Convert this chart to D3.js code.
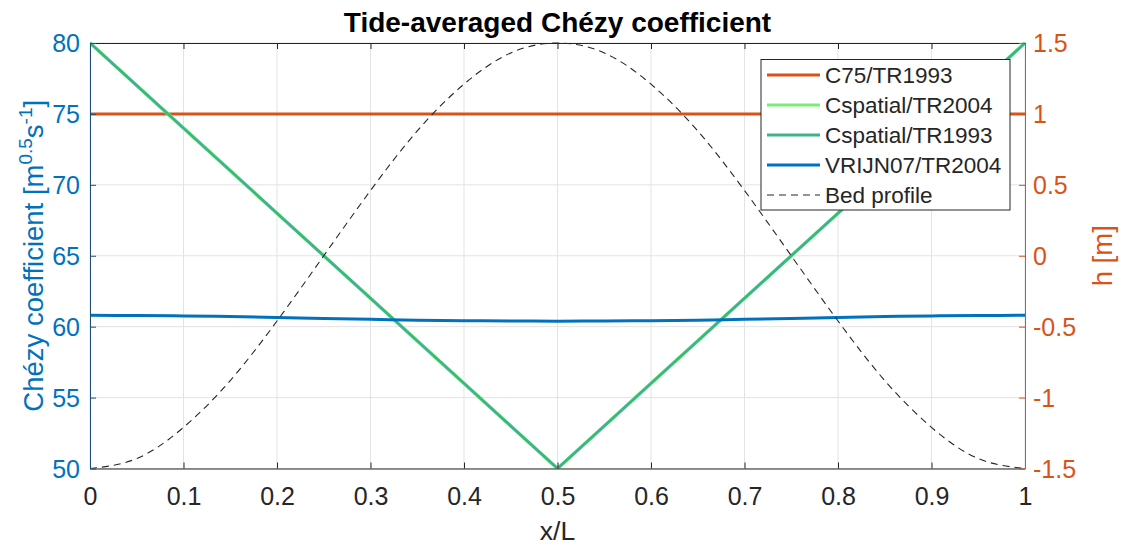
<!DOCTYPE html>
<html><head><meta charset="utf-8">
<script src="https://cdn.jsdelivr.net/npm/d3@7"></script>
<style>body{margin:0;background:#fff}svg{display:block;font-family:"Liberation Sans",Arial,sans-serif}</style>
</head><body><svg id="c" width="1122" height="546"></svg>
<script>
// ---- data ----
const xPos = [0, 0.05, 0.1, 0.15, 0.2, 0.25, 0.3, 0.35, 0.4, 0.45, 0.5, 0.55, 0.6, 0.65, 0.7, 0.75, 0.8, 0.85, 0.9, 0.95, 1];
const c75 = [75,75,75,75,75,75,75,75,75,75,75,75,75,75,75,75,75,75,75,75,75];
const cSpatial2004 = [80,77,74,71,68,65,62,59,56,53,50,53,56,59,62,65,68,71,74,77,80];
const cSpatial1993 = [80,77,74,71,68,65,62,59,56,53,50,53,56,59,62,65,68,71,74,77,80];
const vrijn07 = [60.8,60.79,60.76,60.71,60.65,60.58,60.52,60.46,60.42,60.4,60.39,60.4,60.42,60.46,60.52,60.58,60.65,60.71,60.76,60.79,60.8];
const bedProfile = [-1.5,-1.43,-1.21,-0.88,-0.46,0,0.46,0.88,1.21,1.43,1.5,1.43,1.21,0.88,0.46,0,-0.46,-0.88,-1.21,-1.43,-1.5];
const xTicks = [0,0.1,0.2,0.3,0.4,0.5,0.6,0.7,0.8,0.9,1];
const yLeftTicks = [50,55,60,65,70,75,80];
const yRightTicks = [-1.5,-1,-0.5,0,0.5,1,1.5];
const seriesNames = ["C75/TR1993","Cspatial/TR2004","Cspatial/TR1993","VRIJN07/TR2004","Bed profile"];

const L=90,R=1025,T=43,B=468.5;
const svg=d3.select("#c");
const x=d3.scaleLinear().domain([0,1]).range([L,R]);
const yL=d3.scaleLinear().domain([50,80]).range([B,T]);
const yR=d3.scaleLinear().domain([-1.5,1.5]).range([B,T]);
const blue="#0072BD", orange="#D95319", dark="#262626";
const fmt=d=>String(d);
const FS=25;

// grid
const g=svg.append("g");
g.selectAll(".gx").data(xTicks).join("line").attr("x1",d=>x(d)).attr("x2",d=>x(d)).attr("y1",T).attr("y2",B).attr("stroke","#e3e3e3").attr("stroke-width",1);
g.selectAll(".gy").data(yLeftTicks).join("line").attr("x1",L).attr("x2",R).attr("y1",d=>yL(d)).attr("y2",d=>yL(d)).attr("stroke","#e3e3e3").attr("stroke-width",1);

svg.append("defs").append("clipPath").attr("id","clip").append("rect").attr("x",L).attr("y",T-2).attr("width",R-L).attr("height",B-T+2);
const plot=svg.append("g").attr("clip-path","url(#clip)");
const lineL=vals=>d3.line().x((d,i)=>x(xPos[i])).y(d=>yL(d))(vals);
const lineR=vals=>d3.line().x((d,i)=>x(xPos[i])).y(d=>yR(d)).curve(d3.curveNatural)(vals);

plot.append("path").attr("d",lineL(c75)).attr("fill","none").attr("stroke",orange).attr("stroke-width",3);
plot.append("path").attr("d",lineL(cSpatial2004)).attr("fill","none").attr("stroke","#77EE77").attr("stroke-width",3.5);
plot.append("path").attr("d",lineL(cSpatial1993)).attr("fill","none").attr("stroke","#3DB38C").attr("stroke-width",2.6);
plot.append("path").attr("d",d3.line().x((d,i)=>x(xPos[i])).y(d=>yL(d)).curve(d3.curveNatural)(vrijn07)).attr("fill","none").attr("stroke",blue).attr("stroke-width",3);
plot.append("path").attr("d",lineR(bedProfile)).attr("fill","none").attr("stroke",dark).attr("stroke-width",1.1).attr("stroke-dasharray","7,5");

// axes
const axB=d3.axisBottom(x).tickValues(xTicks).tickFormat(fmt).tickSizeInner(-6).tickSizeOuter(0);
const gb=svg.append("g").attr("transform",`translate(0,${B})`).call(axB);
gb.select(".domain").attr("stroke",dark);
gb.selectAll(".tick line").attr("stroke",dark);
gb.selectAll("text").attr("fill",dark).attr("font-size",FS).attr("y",28).attr("dy","0.35em");
const axT=d3.axisTop(x).tickValues(xTicks).tickFormat("").tickSizeInner(-6).tickSizeOuter(0);
const gt=svg.append("g").attr("transform",`translate(0,${T})`).call(axT);
gt.select(".domain").attr("stroke",dark);
gt.selectAll(".tick line").attr("stroke",dark);

const axLeft=d3.axisLeft(yL).tickValues(yLeftTicks).tickFormat(fmt).tickSizeInner(-6).tickSizeOuter(0);
const gl=svg.append("g").attr("transform",`translate(${L},0)`).call(axLeft);
gl.select(".domain").attr("stroke","#1d4e75");
gl.selectAll(".tick line").attr("stroke","#1d4e75");
gl.selectAll("text").attr("fill",blue).attr("font-size",FS).attr("x",-10).attr("dy","0.35em");

const axRight=d3.axisRight(yR).tickValues(yRightTicks).tickFormat(fmt).tickSizeInner(-6).tickSizeOuter(0);
const gr=svg.append("g").attr("transform",`translate(${R},0)`).call(axRight);
gr.select(".domain").attr("stroke",orange);
gr.selectAll(".tick line").attr("stroke",orange);
gr.selectAll("text").attr("fill",orange).attr("font-size",FS).attr("x",8).attr("dy","0.35em");

// labels
svg.append("text").attr("x",(L+R)/2).attr("y",32).attr("text-anchor","middle").attr("font-size",28).attr("font-weight","bold").attr("fill","#000").text("Tide-averaged Chézy coefficient");
svg.append("text").attr("x",(L+R)/2).attr("y",540).attr("text-anchor","middle").attr("font-size",26.5).attr("fill",dark).text("x/L");
const yl=svg.append("text").attr("transform",`translate(43,${(T+B)/2}) rotate(-90)`).attr("text-anchor","middle").attr("font-size",27.5).attr("fill",blue);
yl.append("tspan").text("Chézy coefficient [m");
yl.append("tspan").attr("font-size",19).attr("dy",-11).text("0.5");
yl.append("tspan").attr("dy",11).text("s");
yl.append("tspan").attr("font-size",19).attr("dy",-11).text("-1");
yl.append("tspan").attr("dy",11).text("]");
svg.append("text").attr("transform",`translate(1112,${(T+B)/2}) rotate(-90)`).attr("text-anchor","middle").attr("font-size",27.5).attr("fill",orange).text("h [m]");

// legend
const lg=svg.append("g");
lg.append("rect").attr("x",761).attr("y",59.5).attr("width",249).attr("height",150.5).attr("fill","#fff").attr("stroke",dark).attr("stroke-width",1);
const legStyles=[{c:orange,w:3,d:null},{c:"#77EE77",w:3,d:null},{c:"#3DB38C",w:3,d:null},{c:blue,w:3,d:null},{c:dark,w:1.1,d:"7,5"}];
seriesNames.forEach((n,i)=>{
  const yy=75+i*30;
  lg.append("line").attr("x1",767).attr("x2",820).attr("y1",yy).attr("y2",yy).attr("stroke",legStyles[i].c).attr("stroke-width",legStyles[i].w).attr("stroke-dasharray",legStyles[i].d);
  lg.append("text").attr("x",825).attr("y",yy).attr("dy","0.35em").attr("font-size",22.5).attr("fill",dark).text(n);
});
</script></body></html>
